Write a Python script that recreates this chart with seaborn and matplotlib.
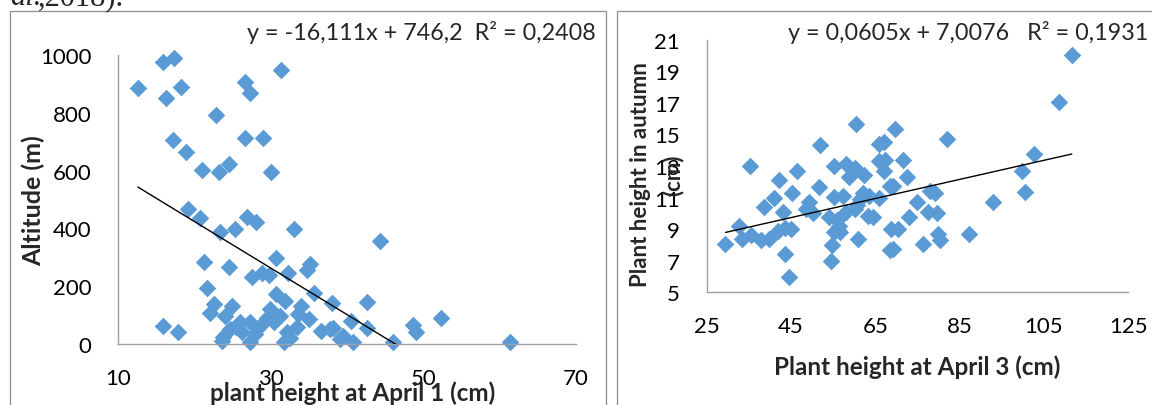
import numpy as np
import pandas as pd
import seaborn as sns
import matplotlib.pyplot as plt
from matplotlib.patches import Rectangle

# %% data
# left: plant height at April 1 (cm) vs altitude (m)
april1_height = [12.6, 15.9, 17.3, 16.3, 18.3, 22.9, 17.2, 18.9, 21.0, 23.2,
                 24.5, 26.6, 27.3, 26.6, 29.0, 30.0, 31.3, 19.2, 20.8, 23.4,
                 25.3, 26.9, 28.1, 33.0, 44.3, 21.3, 24.6, 30.7, 27.5, 28.8,
                 29.8, 32.3, 35.2, 34.7, 21.6, 30.7, 31.9, 35.7, 38.0, 42.6,
                 22.6, 24.9, 22.0, 24.0, 34.0, 33.6, 35.0, 29.9, 31.2, 40.5,
                 42.6, 48.7, 49.0, 17.9, 15.9, 26.0, 27.3, 28.6, 26.2, 28.0,
                 23.8, 27.3, 31.7, 32.1, 30.4, 33.4, 36.6, 38.2, 39.5, 40.8,
                 46.0, 52.3, 24.7, 23.6, 61.3, 39.1, 37.8, 25.5, 32.5, 29.5]
altitude = [885, 977, 988, 850, 890, 792, 706, 663, 603, 596,
            623, 905, 868, 712, 712, 594, 948, 467, 435, 386,
            398, 438, 421, 398, 357, 283, 268, 297, 231, 246,
            239, 246, 277, 256, 193, 173, 150, 177, 142, 144,
            138, 133, 106, 98, 133, 104, 87, 121, 98, 81,
            57, 67, 40, 40, 63, 75, 75, 63, 40, 35,
            23, 6, 6, 40, 75, 58, 46, 54, 29, 6,
            8, 90, 52, 11, 6, 17, 52, 60, 20, 90]
slope_alt, icept_alt = -16.111, 746.2
eq_alt = 'y = -16,111x + 746,2  R² = 0,2408'

# right: plant height at April 3 (cm) vs plant height in autumn (cm)
april3_height = [29.5, 32.8, 35.2, 33.3, 35.6, 37.9, 39.9, 38.6, 41.0, 42.1,
                 43.2, 45.3, 46.4, 41.9, 43.5, 45.0, 43.7, 44.6, 51.8, 51.7,
                 49.2, 48.5, 50.3, 55.3, 58.1, 60.1, 58.9, 62.4, 60.5, 55.2,
                 57.4, 54.1, 55.9, 55.3, 56.7, 54.7, 54.4, 60.8, 61.3, 60.3,
                 63.6, 63.4, 64.4, 66.0, 66.0, 66.0, 69.7, 67.0, 67.3, 71.7,
                 67.0, 72.5, 69.3, 68.4, 68.8, 70.5, 69.3, 68.4, 56.5, 58.1,
                 82.0, 78.0, 79.2, 74.9, 77.6, 79.6, 72.9, 80.0, 80.4, 76.4,
                 87.3, 93.0, 100.6, 99.8, 102.6, 108.5, 111.6, 62.2, 60.6]
autumn_height = [8.05, 9.2, 13.0, 8.4, 8.6, 8.3, 8.4, 10.4, 11.0, 12.1,
                 10.1, 11.3, 12.7, 8.9, 9.1, 9.0, 7.4, 6.0, 14.35, 11.65,
                 10.7, 10.3, 10.0, 13.0, 13.1, 12.9, 12.3, 12.4, 15.66, 11.05,
                 11.1, 9.75, 9.6, 8.8, 8.8, 8.0, 7.0, 8.4, 10.9, 10.3,
                 11.1, 9.85, 9.75, 11.0, 14.4, 13.3, 15.35, 14.5, 13.4, 13.4,
                 12.7, 12.3, 11.75, 11.75, 9.0, 9.0, 7.75, 7.7, 9.2, 10.1,
                 14.7, 11.4, 11.3, 10.7, 10.1, 10.0, 9.75, 8.7, 8.3, 8.05,
                 8.7, 10.7, 11.37, 12.7, 13.76, 17.03, 20.03, 11.3, 10.5]
slope_aut, icept_aut = 0.0605, 7.0076
eq_aut = 'y = 0,0605x + 7,0076   R² = 0,1931'

df_alt = pd.DataFrame({'x': april1_height, 'y': altitude})
df_aut = pd.DataFrame({'x': april3_height, 'y': autumn_height})

# %% style
sns.set_style('white')
plt.rcParams['font.family'] = ['Lato', 'DejaVu Sans']
plt.rcParams['font.size'] = 16

BLUE = '#5b9bd5'
AXIS_GREY = '#a0a0a0'
W, H = 1152, 406

fig = plt.figure(figsize=(W / 100, H / 100), dpi=100)


def px_box(x0, x1, ytop, ybot):
    return [x0 / W, 1 - ybot / H, (x1 - x0) / W, (ybot - ytop) / H]


ax1 = fig.add_axes(px_box(118, 576, 56, 345))
ax2 = fig.add_axes(px_box(706.5, 1128.3, 40.7, 293.3))


def draw_panel(ax, df, slope, icept):
    sns.scatterplot(data=df, x='x', y='y', ax=ax, marker='D', s=80,
                    color=BLUE, linewidth=0, clip_on=False, zorder=2)
    xs = np.array([df['x'].min(), df['x'].max()])
    line = pd.DataFrame({'x': xs, 'y': slope * xs + icept})
    sns.lineplot(data=line, x='x', y='y', ax=ax, color='black', lw=1.0, zorder=3)
    sns.despine(ax=ax)
    for side in ('left', 'bottom'):
        ax.spines[side].set_color(AXIS_GREY)
        ax.spines[side].set_linewidth(1.0)
    ax.tick_params(direction='out', length=6, width=1.0, color=AXIS_GREY,
                   labelsize=16, labelcolor='black')
    ax.tick_params(axis='y', pad=13)
    ax.tick_params(axis='x', pad=11)
    ax.set_facecolor('none')


draw_panel(ax1, df_alt, slope_alt, icept_alt)
ax1.set_xlim(10, 70)
ax1.set_xticks([10, 30, 50, 70])
ax1.set_ylim(0, 1000)
ax1.set_yticks(range(0, 1001, 200))
ax1.set_xlabel('plant height at April 1 (cm)', fontweight='bold', va='baseline',
               fontsize=17.5)
ax1.xaxis.set_label_coords(0.512, (345 - 401) / 289)
ax1.set_ylabel('Altitude (m)', fontweight='bold', ha='center', va='center',
               rotation_mode='default', fontsize=18)
ax1.yaxis.set_label_coords((33 - 118) / 458, 0.5)

draw_panel(ax2, df_aut, slope_aut, icept_aut)
ax2.set_xlim(25, 125)
ax2.set_xticks(range(25, 126, 20))
ax2.set_ylim(5, 21)
ax2.set_yticks(range(5, 22, 2))
ax2.set_xlabel('Plant height at April 3 (cm)', fontweight='bold', va='baseline',
               fontsize=17.5)
ax2.xaxis.set_label_coords(0.5, (293.3 - 375) / 252.6)
ax2.set_ylabel('Plant height in autumn\n(cm)', fontweight='bold', ha='center',
               va='center', rotation_mode='default', linespacing=1.6)
ax2.yaxis.set_label_coords((656.5 - 706.5) / 421.8, (293.3 - 175) / 252.6)

# trendline equations
fig.text(596 / W, 1 - 33 / H, eq_alt, ha='right', va='center', fontsize=16.8)
fig.text(1148 / W, 1 - 33 / H, eq_aut, ha='right', va='center', fontsize=16.8)

# chart area borders (cut by the page crop)
for x0, x1 in [(10, 606), (617, 1200)]:
    fig.add_artist(Rectangle((x0 / W, -0.2), (x1 - x0) / W, 1.2 - 12 / H,
                             fill=False, ec='#8c8c8c', lw=0.9,
                             transform=fig.transFigure, clip_on=False))

# caption fragment above the charts
fig.text(10 / W, 1 - 5 / H, 'al.', style='italic', family='Liberation Serif',
         fontsize=22, va='baseline')
fig.text(38 / W, 1 - 5 / H, ',2018).', family='Liberation Serif',
         fontsize=22, va='baseline')

fig.savefig('out.png', dpi=100)
